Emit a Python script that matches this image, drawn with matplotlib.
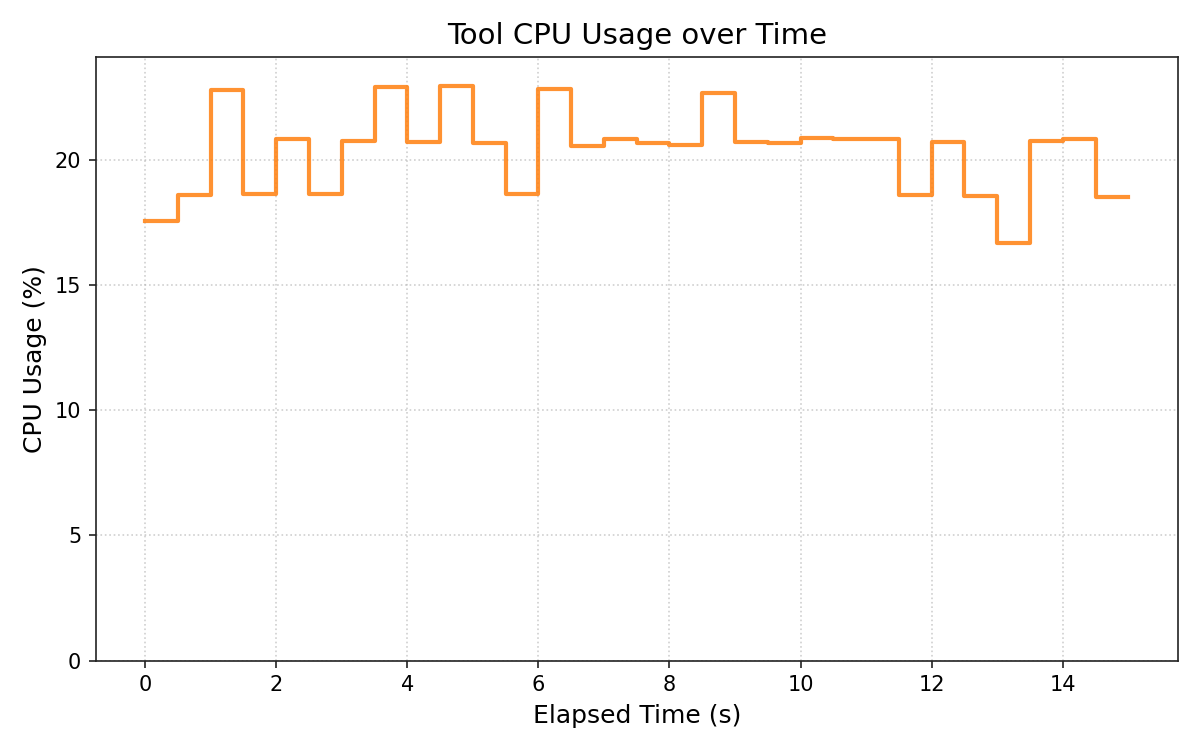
import numpy as np
import matplotlib
matplotlib.use('Agg')
import matplotlib.pyplot as plt


# sampled every 0.5 s, held until the next sample
elapsed = [0.0, 0.5, 1.0, 1.5, 2.0, 2.5, 3.0, 3.5, 4.0, 4.5, 5.0, 5.5, 6.0, 6.5, 7.0, 7.5,
           8.0, 8.5, 9.0, 9.5, 10.0, 10.5, 11.0, 11.5, 12.0, 12.5, 13.0, 13.5, 14.0, 14.5, 15.0]
cpu = [17.55, 18.6, 22.8, 18.65, 20.84, 18.65, 20.76, 22.93, 20.72, 22.97, 20.68, 18.65,
       22.85, 20.56, 20.84, 20.68, 20.6, 22.69, 20.72, 20.68, 20.88, 20.84, 20.84, 18.6,
       20.72, 18.55, 16.67, 20.76, 20.84, 18.51, 18.51]


fig, ax = plt.subplots(figsize=(8, 5), dpi=150)
ax.step(elapsed, cpu, where='post', color='tab:orange', alpha=0.85, linewidth=2)

ax.set_ylim(0, max(cpu) * 1.05)
ax.set_title('Tool CPU Usage over Time', fontsize=14)
ax.set_xlabel('Elapsed Time (s)', fontsize=12)
ax.set_ylabel('CPU Usage (%)', fontsize=12)
ax.tick_params(labelsize=10, color='#222222')
for spine in ax.spines.values():
    spine.set_color('#222222')
ax.grid(True, linestyle=':', alpha=0.6)

fig.tight_layout()
fig.savefig('out.png')
